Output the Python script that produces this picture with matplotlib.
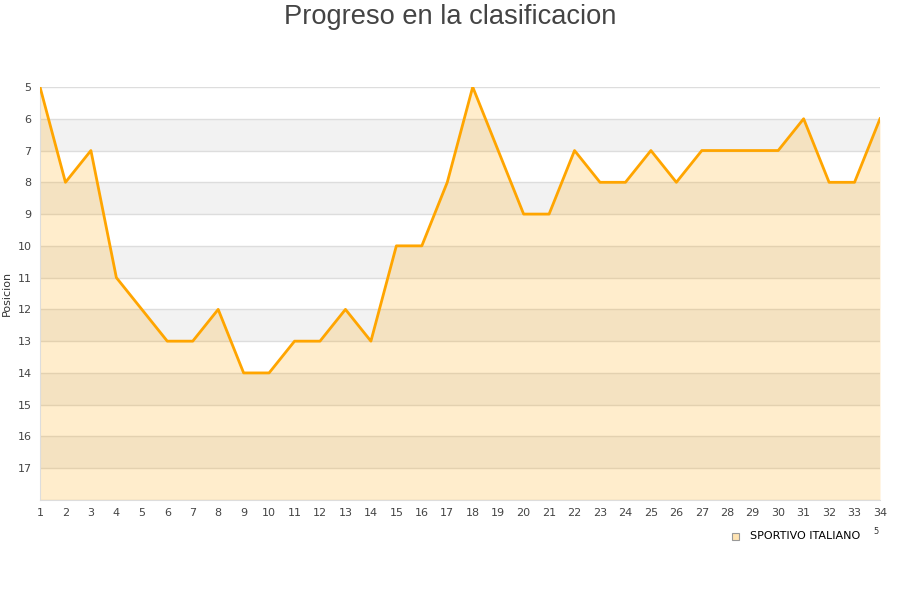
import matplotlib
matplotlib.use("Agg")
import matplotlib.pyplot as plt
from matplotlib.patches import Rectangle

jornadas = list(range(1, 35))
posicion = [5, 8, 7, 11, 12, 13, 13, 12, 14, 14, 13, 13, 12, 13, 10, 10, 8, 5,
            7, 9, 9, 7, 8, 8, 7, 8, 7, 7, 7, 7, 6, 8, 8, 6]
equipo = "SPORTIVO ITALIANO"
y_ticks = list(range(5, 18))

fig = plt.figure(figsize=(9, 6), dpi=100)
ax = fig.add_axes([40 / 900, 1 - 500 / 600, 840 / 900, 413 / 600])

# alternating bands
for k in range(5, 18):
    col = "#ffffff" if (k - 5) % 2 == 0 else "#f2f2f2"
    ax.axhspan(k, k + 1, color=col, zorder=0, lw=0)
for k in range(5, 19):
    ax.axhline(k, color="#dddddd", lw=1, zorder=1)

ax.fill_between(jornadas, posicion, 18, color="#ffa500", alpha=0.2, lw=0, zorder=2)
ax.plot(jornadas, posicion, color="#ffa500", lw=2, zorder=3)

ax.set_xlim(1, 34)
ax.set_ylim(18, 5)
ax.set_yticks(y_ticks)
ax.set_xticks(jornadas)
ax.tick_params(length=0, labelsize=8, colors="#444444", pad=6)
for s in ["top", "right"]:
    ax.spines[s].set_visible(False)
for s in ["left", "bottom"]:
    ax.spines[s].set_color("#dddddd")
ax.set_ylabel("Posicion", fontsize=8, color="#333333", labelpad=4)

fig.text(0.5, 1 - 17 / 600, "Progreso en la clasificacion", ha="center", va="center",
         fontsize=19.6, color="#444444", family="Liberation Sans")

# legend
fig.patches.append(Rectangle((732 / 900, 1 - 540 / 600), 7 / 900, 7 / 600,
                             transform=fig.transFigure, facecolor="#ffe4b3",
                             edgecolor="#999999", lw=0.8))
fig.text(750 / 900, 1 - 536 / 600, equipo, fontsize=8, va="center", color="#000000")
fig.text(873 / 900, 1 - 532 / 600, "5", fontsize=6, va="center", color="#333333")

fig.savefig("out.png", dpi=100)
